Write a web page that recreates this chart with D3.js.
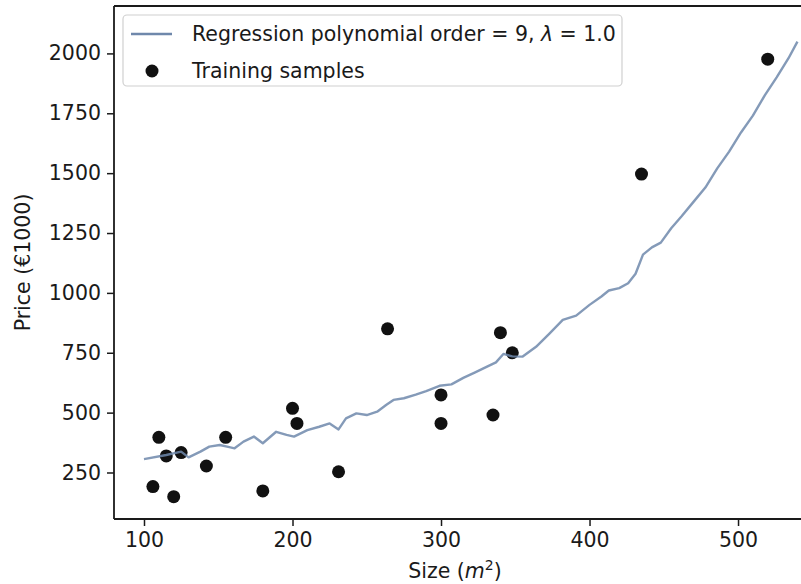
<!DOCTYPE html>
<html>
<head>
<meta charset="utf-8">
<script src="https://cdn.jsdelivr.net/npm/d3@7"></script>
<style>
  html, body { margin: 0; padding: 0; background: #fff; }
  svg { display: block; }
  text { font-family: "DejaVu Sans", sans-serif; fill: #1a1a1a; }
</style>
</head>
<body>
<svg id="chart" width="801" height="584"></svg>
<script>
// Training samples (size m^2, price in 1000 EUR)
const sampleSize  = [106, 110, 115, 120, 125, 142, 155, 180, 200, 203, 231, 264, 300, 300, 335, 340, 348, 435, 520];
const samplePrice = [191, 397, 319, 149, 333, 277, 397, 173, 518, 455, 253, 850, 574, 455, 490, 834, 750, 1496, 1976];

// Regression curve (polynomial order 9, lambda = 1.0)
const curveSize  = [100, 115, 125, 130, 138, 144, 151, 156, 161, 167, 174, 180, 189, 196, 201, 210, 218, 225, 231, 236,
                    243, 250, 257, 263, 268, 275, 283, 290, 299, 307, 315, 323, 331, 337, 342, 348, 355, 364, 373, 382,
                    391, 400, 408, 413, 420, 426, 431, 436, 442, 448, 455, 462, 470, 478, 486, 494, 502, 510, 518, 526,
                    534, 540];
const curvePrice = [306, 323, 337, 313, 337, 358, 365, 358, 351, 379, 400, 372, 420, 407, 400, 427, 441, 455, 430, 476,
                    497, 490, 504, 532, 553, 560, 575, 590, 612, 618, 645, 668, 692, 710, 745, 735, 734, 775, 830, 887,
                    905, 950, 985, 1010, 1020, 1040, 1080, 1160, 1190, 1210, 1270, 1320, 1380, 1440, 1520, 1590, 1670, 1740, 1825, 1900,
                    1980, 2049];

const xTicks = [100, 200, 300, 400, 500];
const yTicks = [250, 500, 750, 1000, 1250, 1500, 1750, 2000];

const svg = d3.select("#chart");
const mLeft = 114, mRight = 801, mTop = 6, mBottom = 519;

const x = d3.scaleLinear().domain([79.8, 542.4]).range([mLeft, mRight]);
const y = d3.scaleLinear().domain([55.8, 2198]).range([mBottom, mTop]);

const fs = 20.5;

// axes
const xAxis = svg.append("g").attr("transform", `translate(0,${mBottom})`)
  .call(d3.axisBottom(x).tickValues(xTicks).tickSize(7).tickPadding(6).tickFormat(d3.format("d")));
const yAxis = svg.append("g").attr("transform", `translate(${mLeft},0)`)
  .call(d3.axisLeft(y).tickValues(yTicks).tickSize(7).tickPadding(6).tickFormat(d3.format("d")));
[xAxis, yAxis].forEach(g => {
  g.select(".domain").remove();
  g.selectAll(".tick line").attr("stroke", "#1a1a1a").attr("stroke-width", 1.5);
  g.selectAll(".tick text").style("font-size", fs + "px").attr("fill", "#1a1a1a")
    .style("font-family", "DejaVu Sans, sans-serif");
});

// clip for plot content
svg.append("clipPath").attr("id", "clip")
  .append("rect").attr("x", mLeft).attr("y", mTop).attr("width", mRight - mLeft).attr("height", mBottom - mTop);

const plot = svg.append("g").attr("clip-path", "url(#clip)");

// samples
const samples = sampleSize.map((s, i) => ({ s, p: samplePrice[i] }));
plot.selectAll("circle.sample").data(samples).join("circle")
  .attr("class", "sample")
  .attr("cx", d => x(d.s)).attr("cy", d => y(d.p)).attr("r", 6.5)
  .attr("fill", "#111");

// regression line
const curve = curveSize.map((s, i) => ({ s, p: curvePrice[i] }));
plot.append("path").datum(curve)
  .attr("d", d3.line().x(d => x(d.s)).y(d => y(d.p)))
  .attr("fill", "none").attr("stroke", "#6f88ab").attr("stroke-width", 2.4)
  .attr("stroke-opacity", 0.85).attr("stroke-linejoin", "round");

// spines
svg.append("line").attr("x1", mLeft).attr("x2", mLeft).attr("y1", mTop).attr("y2", mBottom)
  .attr("stroke", "#1a1a1a").attr("stroke-width", 1.8);
svg.append("line").attr("x1", mLeft).attr("x2", mRight).attr("y1", mBottom).attr("y2", mBottom)
  .attr("stroke", "#1a1a1a").attr("stroke-width", 1.8);
svg.append("line").attr("x1", mLeft).attr("x2", mRight).attr("y1", mTop).attr("y2", mTop)
  .attr("stroke", "#1a1a1a").attr("stroke-width", 1.8);

// axis labels
const xl = svg.append("text").attr("x", 455).attr("y", 578).attr("text-anchor", "middle")
  .style("font-size", fs + "px");
xl.append("tspan").text("Size (");
xl.append("tspan").attr("font-style", "italic").text("m");
xl.append("tspan").attr("dy", -8).style("font-size", "14px").text("2");
xl.append("tspan").attr("dy", 8).text(")");

svg.append("text").attr("transform", `translate(30,${(mTop + mBottom) / 2}) rotate(-90)`)
  .attr("text-anchor", "middle").style("font-size", fs + "px").text("Price (€1000)");

// legend
const lg = svg.append("g");
lg.append("rect").attr("x", 123).attr("y", 15).attr("width", 499).attr("height", 71)
  .attr("rx", 4).attr("fill", "#fff").attr("fill-opacity", 0.85)
  .attr("stroke", "#d0d0d0").attr("stroke-width", 1.2);
lg.append("line").attr("x1", 131).attr("x2", 172).attr("y1", 34).attr("y2", 34)
  .attr("stroke", "#6f88ab").attr("stroke-width", 2.4);
lg.append("circle").attr("cx", 152).attr("cy", 71).attr("r", 6.5).attr("fill", "#111");
const t1 = lg.append("text").attr("x", 192).attr("y", 41).style("font-size", fs + "px");
t1.append("tspan").text("Regression polynomial order = 9, ");
t1.append("tspan").attr("font-style", "italic").text("λ");
t1.append("tspan").text(" = 1.0");
lg.append("text").attr("x", 192).attr("y", 78).style("font-size", fs + "px").text("Training samples");
</script>
</body>
</html>
